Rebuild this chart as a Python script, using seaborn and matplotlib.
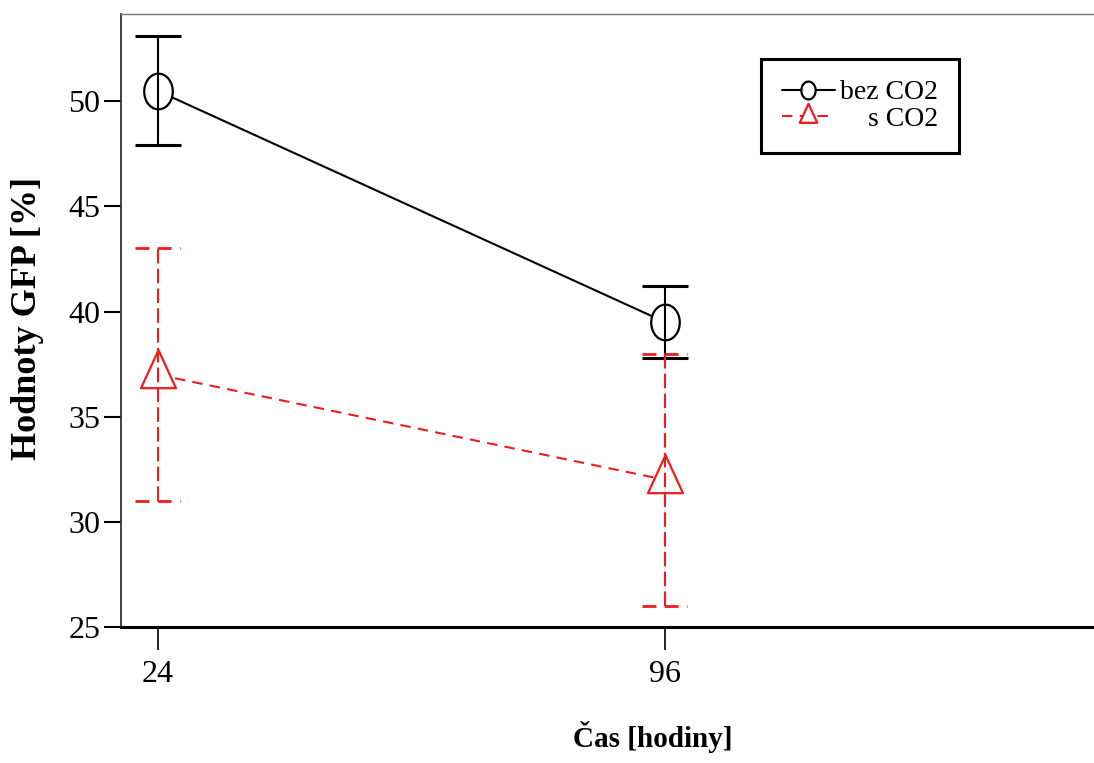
import numpy as np
import pandas as pd
import seaborn as sns
import matplotlib
matplotlib.use("Agg")
import matplotlib.pyplot as plt
from matplotlib.path import Path

# --- data -------------------------------------------------------------
cas = [24, 96]                      # time [hours]
skupiny = ["bez CO2", "s CO2"]
gfp_bez = [50.5, 39.5]              # mean GFP [%] without CO2
err_bez = [2.6, 1.7]
gfp_s = [37.0, 32.0]                # mean GFP [%] with CO2
err_s = [6.0, 6.0]
y_ticks = [25, 30, 35, 40, 45, 50]

df = pd.DataFrame({
    "cas": cas * 2,
    "gfp": gfp_bez + gfp_s,
    "skupina": [skupiny[0]] * 2 + [skupiny[1]] * 2,
})

# --- style ------------------------------------------------------------
sns.set_theme(style="white")
plt.rcParams["font.family"] = ["Liberation Serif", "DejaVu Serif"]
plt.rcParams["text.color"] = "black"
plt.rcParams["axes.labelcolor"] = "black"
plt.rcParams["xtick.color"] = "black"
plt.rcParams["ytick.color"] = "black"

BLACK = "#000000"
RED = "#f01c1c"

# tall ellipse and centroid-centred triangle markers
t = np.linspace(0, 2 * np.pi, 60)
ellipse = Path(np.column_stack([0.8 * np.cos(t), np.sin(t)]), closed=True)
triangle = Path([(0, 1.0), (-0.69, -0.5), (0.69, -0.5), (0, 1.0)], closed=True)

fig = plt.figure(figsize=(10.94, 7.63), dpi=100)
ax = fig.add_axes([121 / 1094, 1 - 627 / 763, 1 - 121 / 1094, (627 - 14) / 763])

sns.lineplot(
    data=df, x="cas", y="gfp", hue="skupina", style="skupina",
    palette={skupiny[0]: BLACK, skupiny[1]: RED},
    dashes={skupiny[0]: "", skupiny[1]: (5, 3.5)},
    markers={skupiny[0]: ellipse, skupiny[1]: triangle},
    linewidth=1.5, legend=False, ax=ax, zorder=2,
)
sizes = {skupiny[0]: 25.7, skupiny[1]: 36.5}
cols = {skupiny[0]: BLACK, skupiny[1]: RED}
for line, name in zip(ax.lines, skupiny):
    line.set_markersize(sizes[name])
    line.set_markerfacecolor("white")
    line.set_markeredgecolor(cols[name])
    line.set_markeredgewidth(1.6)

# error bars
eb = ax.errorbar(cas, gfp_bez, yerr=err_bez, fmt="none", ecolor=BLACK,
                 elinewidth=1.5, capsize=16.5, capthick=2.2, zorder=3)
eb2 = ax.errorbar(cas, gfp_s, yerr=err_s, fmt="none", ecolor=RED,
                  elinewidth=1.5, capsize=0, zorder=3)
eb2[2][0].set_linestyle((0, (7, 2.5)))
cap_half = 3.2
lo = np.array(gfp_s) - np.array(err_s)
hi = np.array(gfp_s) + np.array(err_s)
for yv in (lo, hi):
    ax.hlines(yv, np.array(cas) - cap_half, np.array(cas) + cap_half,
              colors=RED, linewidth=2.0, linestyles=(0, (5, 3)), zorder=3)

# axes
ax.set_xlim(18.8, 156.9)
ax.set_ylim(25, 54.15)
ax.set_xticks(cas)
ax.set_xticklabels([str(c) for c in cas])
ax.set_yticks(y_ticks)
ax.set_yticklabels([str(v) for v in y_ticks])
ax.tick_params(axis="y", direction="out", length=12, width=1.5, color=BLACK,
               labelcolor=BLACK, labelsize=23, pad=3, left=True)
ax.tick_params(axis="x", direction="out", length=16.5, width=1.2, color=BLACK,
               labelcolor=BLACK, labelsize=23, pad=7, bottom=True)

ax.spines["right"].set_visible(False)
ax.spines["top"].set_color("#777777")
ax.spines["top"].set_linewidth(1.0)
ax.spines["left"].set_color("#333333")
ax.spines["left"].set_linewidth(1.3)
ax.spines["bottom"].set_color(BLACK)
ax.spines["bottom"].set_linewidth(2.2)

ax.set_xlabel("Čas [hodiny]", fontsize=21, fontweight="bold", color=BLACK)
ax.set_ylabel("Hodnoty GFP [%]", fontsize=26, fontweight="bold", color=BLACK)
ax.xaxis.set_label_coords((653 - 121) / 973, (627 - 721) / 613)
ax.yaxis.set_label_coords((44 - 121) / 973, 0.503)

# legend
leg = ax.legend(
    handles=list(ax.lines[:2]), labels=skupiny,
    loc="upper left", bbox_to_anchor=((761 - 121) / 973, (627 - 59) / 613),
    borderaxespad=0, fontsize=20, frameon=True, fancybox=False,
    markerscale=0.5, handlelength=1.9, handletextpad=0.2,
    borderpad=0.75, labelspacing=0.05,
)
leg.get_frame().set_edgecolor(BLACK)
leg.get_frame().set_linewidth(2.2)
leg.get_frame().set_alpha(1)
for tx in leg.get_texts():
    tx.set_color(BLACK)

# right-align the legend labels
fig.canvas.draw()
renderer = fig.canvas.get_renderer()
texts = leg.get_texts()
widths = [tx.get_window_extent(renderer).width for tx in texts]
for tx, w in zip(texts, widths):
    tx.set_x(max(widths) - w)

fig.savefig("out.png", dpi=100)
